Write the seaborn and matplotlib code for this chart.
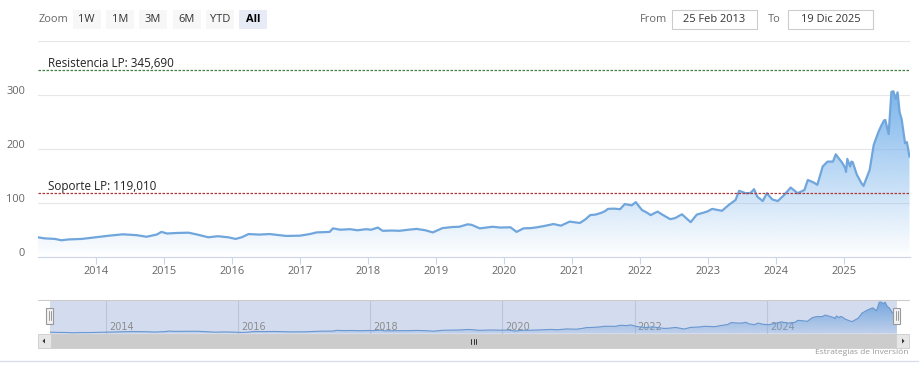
import numpy as np
import pandas as pd
import matplotlib
matplotlib.use("Agg")
import matplotlib.pyplot as plt
import matplotlib.dates as mdates
import matplotlib.transforms as mtransforms
from matplotlib.colors import to_rgb
from matplotlib.patches import Rectangle, Polygon
from matplotlib.lines import Line2D
import seaborn as sns

# ---------------- data ----------------
dates = [
    "2013-02-25", "2013-04-01", "2013-05-26", "2013-07-01", "2013-08-07", "2013-10-19",
    "2014-01-02", "2014-03-14", "2014-05-26", "2014-08-07", "2014-10-01", "2014-11-24", "2014-12-20",
    "2015-01-19", "2015-03-14", "2015-05-15", "2015-07-01", "2015-08-29", "2015-10-19", "2015-12-13",
    "2016-01-22", "2016-02-24", "2016-04-01", "2016-05-26", "2016-07-23", "2016-09-13", "2016-10-19",
    "2017-01-02", "2017-02-24", "2017-04-01", "2017-06-10", "2017-06-28", "2017-08-07", "2017-09-27",
    "2017-11-06", "2017-12-23",
    "2018-01-19", "2018-02-24", "2018-03-22", "2018-05-08", "2018-06-21", "2018-08-07", "2018-09-20",
    "2018-11-06", "2018-12-16",
    "2019-02-06", "2019-04-01", "2019-05-08", "2019-06-21", "2019-07-13", "2019-08-25", "2019-10-01",
    "2019-11-03", "2019-12-13",
    "2020-02-06", "2020-03-10", "2020-04-16", "2020-05-26", "2020-06-28", "2020-08-07", "2020-09-24",
    "2020-11-03", "2020-12-20",
    "2021-02-13", "2021-03-14", "2021-04-09", "2021-05-08", "2021-06-10", "2021-07-01", "2021-07-13",
    "2021-08-15", "2021-09-17", "2021-10-12", "2021-11-18", "2021-12-10",
    "2022-01-12", "2022-02-06", "2022-02-28", "2022-04-06", "2022-05-01", "2022-06-13", "2022-07-09",
    "2022-08-15", "2022-10-01", "2022-11-03", "2022-12-02", "2022-12-28",
    "2023-01-24", "2023-03-18", "2023-04-24", "2023-05-30", "2023-06-18", "2023-07-23", "2023-08-19",
    "2023-09-06", "2023-09-24", "2023-10-23", "2023-11-14", "2023-12-13",
    "2024-01-12", "2024-02-14", "2024-03-21", "2024-04-27", "2024-06-03", "2024-06-21", "2024-07-24",
    "2024-08-11", "2024-09-09", "2024-10-05", "2024-11-03", "2024-11-18", "2024-12-24",
    "2025-01-08", "2025-01-12", "2025-01-19", "2025-02-03", "2025-02-10", "2025-02-17", "2025-03-11",
    "2025-04-05", "2025-04-16", "2025-05-19", "2025-06-10", "2025-07-06", "2025-07-20", "2025-08-04",
    "2025-08-11", "2025-08-29", "2025-09-13", "2025-09-24", "2025-10-05", "2025-10-16", "2025-10-27",
    "2025-11-07", "2025-11-25", "2025-12-05", "2025-12-19",
]
prices = [
    37, 35, 34, 31.5, 33, 34,
    37, 40, 42.5, 41, 38, 42, 47,
    44, 45, 45.5, 42, 37, 39, 37,
    34, 37, 43, 42, 43, 41, 39.5,
    40, 43, 46, 47, 53.5, 51, 52,
    50, 52,
    51, 55, 49, 49.5, 49, 51, 52.5,
    50, 46,
    54, 56, 56.5, 61, 60, 53.5, 55,
    56.5, 55,
    55.5, 47, 53.5, 54, 55.5, 58, 61.5,
    58.5, 66,
    63.5, 70, 78, 79, 82.5, 86, 89.5,
    90, 89, 98.5, 96, 102,
    87.5, 83, 78, 84.5, 79, 70.5, 72.5,
    79.5, 65, 79, 82, 84.5,
    89.5, 86, 97, 106, 123, 118.5, 119,
    126, 112, 104, 118.5, 107,
    104, 115, 129, 118.5, 124.5, 143, 138,
    134, 168, 177, 177, 190.5, 174,
    165, 158, 182, 168, 177, 176, 153,
    137, 132, 161.5, 208, 232.5, 243, 253,
    254, 228, 306, 307, 293, 305, 268,
    255, 211, 213, 186,
]
support_level = 119.010
resistance_level = 345.690
support_name = "Soporte LP"
resistance_name = "Resistencia LP"
y_ticks = [0, 100, 200, 300, 400]
y_tick_labels = ["0", "100", "200", "300", ""]
year_ticks = list(range(2014, 2026))
nav_year_ticks = [2014, 2016, 2018, 2020, 2022, 2024]
range_buttons = ["1W", "1M", "3M", "6M", "YTD", "All"]
selected_button = "All"
from_text = "25 Feb 2013"
to_text = "19 Dic 2025"
credit_text = "Estrategias de Inversión"

# ---------------- style ----------------
sns.set_theme(style="white")
plt.rcParams["font.family"] = ["Open Sans", "DejaVu Sans"]
FS = 7.9

df = pd.DataFrame({"date": pd.to_datetime(dates), "price": prices})

W, H = 919, 380
fig = plt.figure(figsize=(W / 100, H / 100), dpi=100)
fig.patch.set_facecolor("white")


def fx(px):
    return px / W


def fy(py):
    return 1 - py / H


def rect_px(l, t, r, b):
    return [fx(l), fy(b), fx(r) - fx(l), fy(t) - fy(b)]


def fmt_es(v):
    return f"{v:,.3f}".replace(",", "X").replace(".", ",").replace("X", ".")


SERIES = "#7cb5ec"
LINE = "#70a6dc"
x_start = df["date"].iloc[0]
x_end = df["date"].iloc[-1]

# ---------------- main chart ----------------
ax = fig.add_axes(rect_px(38, 41, 909.5, 257.3))
ax.set_facecolor("white")
sns.lineplot(data=df, x="date", y="price", ax=ax, color=LINE, lw=1.6, zorder=4)

x0n, x1n = mdates.date2num(x_start), mdates.date2num(x_end)
grad = np.zeros((256, 1, 4))
grad[:, 0, :3] = to_rgb(SERIES)
grad[:, 0, 3] = np.linspace(1.0, 0.0, 256)
im = ax.imshow(grad, extent=[x0n, x1n, 0, max(prices)], aspect="auto",
               origin="upper", zorder=2, interpolation="bilinear")
poly = ax.fill_between(df["date"], df["price"], 0, color="none", lw=0)
im.set_clip_path(poly.get_paths()[0], transform=ax.transData)

ax.set_xlim(x_start, x_end)
ax.set_ylim(0, 400)
ax.set_xlabel("")
ax.set_ylabel("")

ax.set_yticks(y_ticks)
ax.set_yticklabels(y_tick_labels)
ax.yaxis.grid(True, color="#e6e6e6", lw=0.8)
ax.xaxis.grid(False)
ax.set_axisbelow(True)
ax.tick_params(axis="y", length=0, pad=9.2, labelsize=FS, labelcolor="#666666")
shift = mtransforms.ScaledTranslation(0, 5.5 / 100, fig.dpi_scale_trans)
for lab in ax.get_yticklabels():
    lab.set_transform(lab.get_transform() + shift)

ax.set_xticks([pd.Timestamp(f"{y}-01-01") for y in year_ticks])
ax.set_xticklabels([str(y) for y in year_ticks])
ax.tick_params(axis="x", bottom=True, direction="out", length=5, width=0.8,
               color="#ccd6eb", labelsize=FS, labelcolor="#666666", pad=1.2)
for side in ["top", "left", "right"]:
    ax.spines[side].set_visible(False)
ax.spines["bottom"].set_color("#ccd6eb")
ax.spines["bottom"].set_linewidth(0.8)

# plot lines
ax.axhline(resistance_level, color="#3f7f3f", lw=0.9, ls=(0, (2, 1.2)), zorder=5)
ax.axhline(support_level, color="#b03535", lw=0.9, ls=(0, (2, 1.2)), zorder=5)
for lvl, name in [(resistance_level, resistance_name), (support_level, support_name)]:
    ax.annotate(f"{name}: {fmt_es(lvl)}", xy=(0, lvl), xycoords=("axes fraction", "data"),
                xytext=(7.2, 2.4), textcoords="offset points", fontsize=8.4,
                color="#222222", va="baseline", ha="left", zorder=6)

# ---------------- navigator ----------------
axn = fig.add_axes(rect_px(49.8, 299.5, 896.8, 333.5))
axn.set_facecolor("#d3dbee")
NAV_FILL = "#75a7df"
gradn = np.zeros((256, 1, 4))
gradn[:, 0, :3] = to_rgb(NAV_FILL)
gradn[:, 0, 3] = np.linspace(1.0, 0.15, 256)
imn = axn.imshow(gradn, extent=[x0n, x1n, 0, max(prices)], aspect="auto",
                 origin="upper", zorder=2, interpolation="bilinear")
sns.lineplot(data=df, x="date", y="price", ax=axn, color="#6a97cf", lw=0.8, zorder=3)
polyn = axn.fill_between(df["date"], df["price"], 0, color="none", lw=0)
imn.set_clip_path(polyn.get_paths()[0], transform=axn.transData)
axn.set_xlim(x_start, x_end)
axn.set_ylim(25, 330)
axn.set_xlabel("")
axn.set_ylabel("")
axn.set_yticks([])
axn.set_xticks([pd.Timestamp(f"{y}-01-01") for y in nav_year_ticks])
axn.set_xticklabels([str(y) for y in nav_year_ticks])
axn.xaxis.grid(True, color="#bcc5d9", lw=0.8)
axn.set_axisbelow(True)
axn.tick_params(axis="x", length=0, labelsize=7, labelcolor="#8c8c8c", pad=-8.6,
                labelfontfamily="DejaVu Sans")
shift_n = mtransforms.ScaledTranslation(3 / 100, 0, fig.dpi_scale_trans)
for lab in axn.get_xticklabels():
    lab.set_horizontalalignment("left")
    lab.set_transform(lab.get_transform() + shift_n)
for s in axn.spines.values():
    s.set_visible(False)

# navigator outline
fig.add_artist(Line2D([fx(38), fx(909)], [fy(299.5), fy(299.5)], color="#cccccc", lw=0.8))

# handles
for hx in [49.8, 896.8]:
    fig.add_artist(Rectangle((fx(hx - 3.5), fy(323.5)), fx(7), fy(0) - fy(16),
                             facecolor="#f2f2f2", edgecolor="#999999", lw=0.8, zorder=10))
    for dx in [-1.2, 1.2]:
        fig.add_artist(Line2D([fx(hx + dx)] * 2, [fy(311), fy(320)], color="#999999",
                              lw=0.7, zorder=11))

# scrollbar
fig.add_artist(Rectangle((fx(38), fy(348)), fx(871), fy(0) - fy(14),
                         facecolor="#f2f2f2", edgecolor="none"))
fig.add_artist(Rectangle((fx(51), fy(348)), fx(845), fy(0) - fy(14),
                         facecolor="#cccccc", edgecolor="#cccccc", lw=0.6))
for bx in [38, 896]:
    fig.add_artist(Rectangle((fx(bx), fy(348)), fx(13), fy(0) - fy(14),
                             facecolor="#e6e6e6", edgecolor="#cccccc", lw=0.6))
fig.add_artist(Polygon([[fx(42.5), fy(341)], [fx(45), fy(338.5)], [fx(45), fy(343.5)]],
                       closed=True, facecolor="#333333", edgecolor="none"))
fig.add_artist(Polygon([[fx(904.5), fy(341)], [fx(902), fy(338.5)], [fx(902), fy(343.5)]],
                       closed=True, facecolor="#333333", edgecolor="none"))
for rx in [471, 473.5, 476]:
    fig.add_artist(Line2D([fx(rx)] * 2, [fy(338.5), fy(343.5)], color="#333333", lw=0.7))

# credit and bottom line
fig.text(fx(908), fy(353), credit_text, ha="right", va="center", fontsize=6, color="#999999")
fig.add_artist(Line2D([0, 1], [fy(361), fy(361)], color="#d6dce8", lw=0.9))

# ---------------- range selector ----------------
fig.text(fx(39), fy(19.5), "Zoom", ha="left", va="center", fontsize=FS, color="#666666")
btn_left = [72.7, 106, 139, 172.7, 206, 239]
for bl, label in zip(btn_left, range_buttons):
    sel = label == selected_button
    fig.add_artist(Rectangle((fx(bl), fy(29.3)), fx(28), fy(0) - fy(19.3),
                             facecolor="#e6ebf5" if sel else "#f7f7f7", edgecolor="none"))
    fig.text(fx(bl + 14), fy(19.5), label, ha="center", va="center", fontsize=FS,
             color="#000000" if sel else "#333333", fontweight="bold" if sel else "normal")

fig.text(fx(639.5), fy(19.5), "From", ha="left", va="center", fontsize=FS, color="#666666")
fig.text(fx(767.7), fy(19.5), "To", ha="left", va="center", fontsize=FS, color="#666666")
for (bl, br), txt in [((672, 757), from_text), ((788, 873), to_text)]:
    fig.add_artist(Rectangle((fx(bl), fy(29.3)), fx(br - bl), fy(0) - fy(19.3),
                             facecolor="white", edgecolor="#cccccc", lw=0.8))
    fig.text(fx((bl + br) / 2), fy(19.5), txt, ha="center", va="center", fontsize=FS,
             color="#333333")

fig.savefig("out.png", dpi=100, facecolor="white")
